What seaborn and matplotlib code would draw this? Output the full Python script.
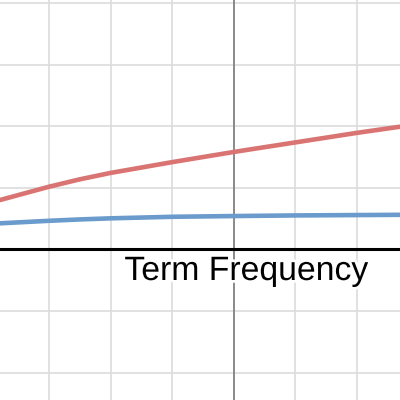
import matplotlib
matplotlib.use("Agg")
import matplotlib.pyplot as plt
import matplotlib.patheffects as pe
import seaborn as sns
import pandas as pd

# values (grid units)
tf = [0.204, 1, 1.5, 2, 3, 4, 5, 6, 6.703]
raw_tf = [0.80, 1.016, 1.136, 1.24, 1.415, 1.58, 1.735, 1.89, 1.99]
saturated_tf = [0.422, 0.463, 0.485, 0.503, 0.528, 0.54, 0.55, 0.556, 0.56]
grid_ticks_x = [1, 2, 3, 4, 5, 6]
grid_ticks_y = [-2, -1, 0, 1, 2, 3, 4]
marker_x = 4
label = "Term Frequency"

sns.set_style("white")
plt.rcParams['font.family'] = ['Liberation Sans', 'DejaVu Sans']

df = pd.DataFrame({"tf": tf, "raw": raw_tf, "sat": saturated_tf})

fig = plt.figure(figsize=(4, 4), dpi=100)
ax = fig.add_axes([0, 0, 1, 1])

ax.set_xlim(0.204, 6.703)
ax.set_ylim(-2.446, 4.047)
ax.set_xticks(grid_ticks_x)
ax.set_yticks(grid_ticks_y)
ax.grid(True, color="#dcdcdc", linewidth=1.2)
ax.set_axisbelow(True)
ax.tick_params(length=0, labelbottom=False, labelleft=False)
for s in ax.spines.values():
    s.set_visible(False)

ax.axvline(marker_x, color="#8a8a8a", linewidth=1.4, zorder=1)
ax.axhline(0, color="black", linewidth=2.2, zorder=1)

sns.lineplot(data=df, x="tf", y="raw", ax=ax, color="#d97472", linewidth=3.3, zorder=3)
sns.lineplot(data=df, x="tf", y="sat", ax=ax, color="#6a9bcc", linewidth=3.3, zorder=3)
ax.set_xlabel("")
ax.set_ylabel("")

ax.text(0.311, 0.30, label, transform=ax.transAxes, fontsize=24.3,
        ha="left", va="baseline", color="black", zorder=4,
        path_effects=[pe.withStroke(linewidth=4, foreground="white")])

fig.savefig("out.png", dpi=100)
